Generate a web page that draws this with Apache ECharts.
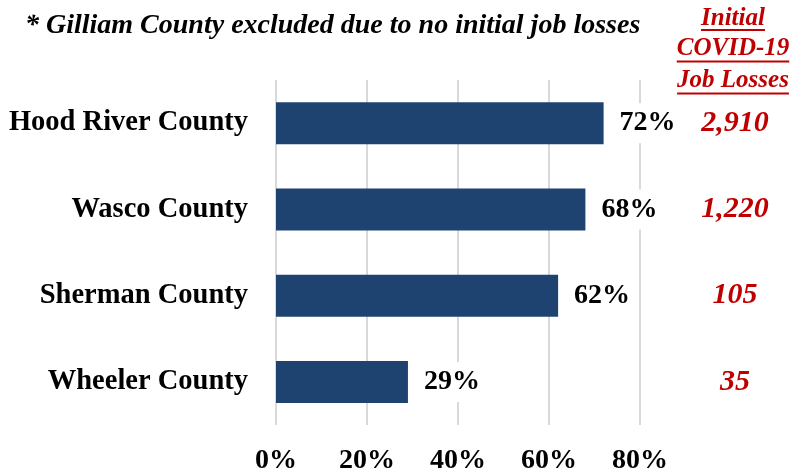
<!DOCTYPE html>
<html><head><meta charset="utf-8">
<script src="https://cdn.jsdelivr.net/npm/echarts@6/dist/echarts.min.js"></script>
<style>html,body{margin:0;padding:0;background:#fff}#c{width:793px;height:475px}</style>
</head><body><div id="c"></div>
<script>
const categories = ['Hood River County', 'Wasco County', 'Sherman County', 'Wheeler County'];
const shareValues = [72, 68, 62, 29];
const jobLosses = [2910, 1220, 105, 35];
const xTickMin = 0, xTickMax = 80, xTickStep = 20;
const noteText = '* Gilliam County excluded due to no initial job losses';
const headerLines = ['Initial', 'COVID-19', 'Job Losses'];

const FONT = '"Liberation Serif", "Times New Roman", serif';
const RED = '#C00000';
const headerSize = 25;
const headerX = 733;
const headerMid = [19, 49, 81];
const headerUnder = [30, 61.5, 93.5];

const mctx = document.createElement('canvas').getContext('2d');
mctx.font = 'italic bold ' + headerSize + 'px ' + FONT;

const graphics = [];
headerLines.forEach((t, i) => {
  const w = mctx.measureText(t).width;
  graphics.push({
    type: 'text', x: headerX, y: headerMid[i],
    style: { text: t, fill: RED, font: 'italic bold ' + headerSize + 'px ' + FONT, textAlign: 'center', textVerticalAlign: 'middle' }
  });
  graphics.push({
    type: 'line', shape: { x1: headerX - w / 2, y1: headerUnder[i], x2: headerX + w / 2, y2: headerUnder[i] },
    style: { stroke: RED, lineWidth: 1.8 }
  });
});

const chart = echarts.init(document.getElementById('c'), null, { renderer: 'canvas' });
chart.setOption({
  animation: false,
  backgroundColor: '#ffffff',
  title: {
    text: noteText, left: 20, top: 7,
    textStyle: { fontFamily: FONT, fontSize: 28, fontWeight: 'bold', fontStyle: 'italic', color: '#000' }
  },
  graphic: graphics,
  grid: { left: 276, right: 153, top: 80, bottom: 48, containLabel: false },
  xAxis: {
    type: 'value', min: xTickMin, max: xTickMax, interval: xTickStep,
    axisLine: { show: false }, axisTick: { show: false },
    splitLine: { show: true, lineStyle: { color: '#d9d9d9', width: 2 } },
    axisLabel: { formatter: '{value}%', margin: 22, color: '#000', fontFamily: FONT, fontSize: 28, fontWeight: 'bold' }
  },
  yAxis: [{
    type: 'category', inverse: true, data: categories,
    axisLine: { show: false }, axisTick: { show: false },
    axisLabel: { margin: 28, color: '#000', fontFamily: FONT, fontSize: 28.5, fontWeight: 'bold' }
  }, {
    type: 'category', inverse: true, position: 'right',
    data: jobLosses.map(v => v.toLocaleString('en-US')),
    axisLine: { show: false }, axisTick: { show: false },
    axisLabel: { margin: 95, align: 'center', color: RED, fontFamily: FONT, fontSize: 30, fontWeight: 'bold', fontStyle: 'italic' }
  }],
  series: [{
    type: 'bar', data: shareValues, yAxisIndex: 0, barWidth: 42,
    itemStyle: { color: '#1f4370' },
    label: {
      show: true, position: 'right', distance: 12, formatter: '{c}%',
      backgroundColor: '#ffffff', padding: [6, 4],
      color: '#000', fontFamily: FONT, fontSize: 28, fontWeight: 'bold'
    }
  }]
});
</script></body></html>
